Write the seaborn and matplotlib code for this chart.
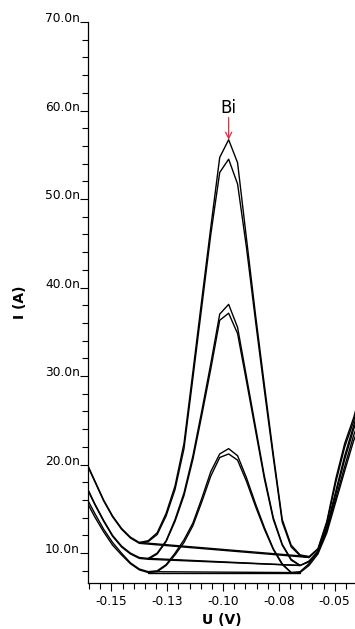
import numpy as np
import pandas as pd
import matplotlib
matplotlib.use("Agg")
import matplotlib.pyplot as plt
import seaborn as sns
from matplotlib.ticker import MultipleLocator

# ---- data (potential in V, current in nA) ----
U = [-0.1615, -0.1575, -0.1535, -0.1495, -0.1455, -0.1415, -0.1375, -0.1335,
     -0.1295, -0.1255, -0.1215, -0.1175, -0.1135, -0.1095, -0.1055, -0.1015,
     -0.0975, -0.0935, -0.0895, -0.0855, -0.0815, -0.0775, -0.0735, -0.0695,
     -0.0655, -0.0615, -0.0575, -0.0535, -0.0495, -0.0455, -0.0415, -0.0375]

A1 = [20.4, 18.2, 16.0, 14.2, 12.8, 11.8, 11.2, 11.4, 12.3, 14.5, 17.6, 22.4,
      30.5, 38.7, 46.8, 54.7, 56.7, 54.1, 45.5, 37.0, 29.0, 21.2, 13.8, 10.9,
      9.8, 9.6, 10.5, 13.6, 18.4, 22.4, 25.3, 29.0]
A2 = [20.3, 18.1, 15.9, 14.1, 12.7, 11.7, 11.1, 11.3, 12.1, 14.2, 17.2, 21.8,
      29.8, 37.9, 46.0, 53.0, 54.5, 51.7, 44.5, 36.3, 28.4, 20.8, 13.5, 10.7,
      9.7, 9.5, 10.4, 13.4, 18.0, 22.0, 24.9, 28.5]
M1 = [17.7, 15.6, 13.7, 12.0, 10.8, 10.0, 9.5, 9.4, 10.0, 11.4, 13.8, 16.8,
      21.0, 26.1, 31.4, 37.0, 38.1, 35.5, 29.9, 24.3, 18.7, 14.0, 11.0, 9.3,
      8.6, 9.1, 10.2, 13.0, 17.0, 21.0, 24.4, 27.5]
M2 = [17.6, 15.5, 13.6, 11.9, 10.7, 9.9, 9.4, 9.3, 9.9, 11.3, 13.6, 16.5,
      20.6, 25.6, 30.8, 36.3, 37.1, 34.8, 29.4, 23.9, 18.4, 13.8, 10.9, 9.2,
      8.6, 9.0, 10.1, 12.8, 16.7, 20.6, 24.0, 27.0]
S1 = [16.4, 14.5, 12.7, 11.2, 10.0, 8.9, 8.2, 7.9, 8.0, 8.7, 10.0, 11.5,
      13.4, 16.2, 19.2, 21.2, 21.8, 21.0, 18.5, 15.6, 12.9, 10.5, 8.8, 7.8,
      7.9, 8.8, 10.1, 12.6, 16.2, 19.8, 23.3, 26.0]
S2 = [16.0, 14.1, 12.4, 10.9, 9.8, 8.8, 8.1, 7.8, 7.9, 8.6, 9.8, 11.2,
      13.1, 15.8, 18.7, 20.8, 21.2, 20.5, 18.1, 15.3, 12.7, 10.4, 8.7, 7.8,
      7.8, 8.6, 9.9, 12.3, 15.8, 19.3, 22.7, 25.3]

curve_names = ["A1", "A2", "M1", "M2", "S1", "S2"]
curve_values = [A1, A2, M1, M2, S1, S2]
# baseline drawn between these two sample indices of each curve
baseline_start = [6, 6, 7, 7, 7, 7]
baseline_end = [25, 25, 24, 24, 23, 24]

x_ticks = [-0.150, -0.125, -0.100, -0.075, -0.050]
x_tick_labels = ["-0.15", "-0.13", "-0.10", "-0.08", "-0.05"]
y_ticks = [10, 20, 30, 40, 50, 60, 70]
y_tick_labels = ["10.0n", "20.0n", "30.0n", "40.0n", "50.0n", "60.0n", "70.0n"]

peak_label = "Bi"
peak_U = -0.0975
peak_I = 56.7

# ---- build tables ----
rows = []
for name, vals in zip(curve_names, curve_values):
    for u, i in zip(U, vals):
        rows.append({"curve": name, "U": u, "I": i})
df = pd.DataFrame(rows)

brows = []
for name, vals, s, e in zip(curve_names, curve_values, baseline_start, baseline_end):
    brows.append({"curve": name, "U": U[s], "I": vals[s]})
    brows.append({"curve": name, "U": U[e], "I": vals[e]})
bdf = pd.DataFrame(brows)

# ---- plot ----
sns.set_theme(style="ticks")
plt.rcParams["font.family"] = ["DejaVu Sans"]
plt.rcParams["text.color"] = "black"
plt.rcParams["axes.labelcolor"] = "black"
plt.rcParams["xtick.color"] = "black"
plt.rcParams["ytick.color"] = "black"

W, H = 355, 629
fig = plt.figure(figsize=(W / 100, H / 100), dpi=100)
ax = fig.add_axes([88 / W, (H - 583) / H, 1 - 88 / W, (583 - 22) / H])

sns.lineplot(data=df, x="U", y="I", units="curve", estimator=None, sort=False,
             color="black", lw=1.0, ax=ax, legend=False)
sns.lineplot(data=bdf, x="U", y="I", units="curve", estimator=None, sort=False,
             color="black", lw=1.0, ax=ax, legend=False)

ax.set_xlim(-0.1605, -0.0409)
ax.set_ylim(6.62, 70)

ax.set_xticks(x_ticks)
ax.set_xticklabels(x_tick_labels, fontsize=8.8, color="black")
ax.xaxis.set_minor_locator(MultipleLocator(0.005))
ax.set_yticks(y_ticks)
ax.set_yticklabels(y_tick_labels, fontsize=8.8, color="black")
ax.yaxis.set_minor_locator(MultipleLocator(2))
for lab in ax.get_yticklabels():
    lab.set_va("baseline")

ax.tick_params(which="major", length=5.8, width=0.8, direction="out",
               color="black", labelcolor="black")
ax.tick_params(which="minor", length=4.0, width=0.8, direction="out", color="black")
ax.tick_params(axis="y", which="major", pad=0)
ax.tick_params(axis="x", which="major", pad=3)

sns.despine(ax=ax)
for sp in ["left", "bottom"]:
    ax.spines[sp].set_color("black")
    ax.spines[sp].set_linewidth(0.9)

ax.set_xlabel("U (V)", fontsize=10, fontweight="bold", color="black")
ax.set_ylabel("I (A)", fontsize=10, fontweight="bold", color="black")
ax.xaxis.set_label_coords(0.5, -0.053)
ax.yaxis.set_label_coords(-0.228, 0.5)

ax.annotate("", xy=(peak_U, peak_I), xytext=(peak_U, peak_I + 2.5),
            arrowprops=dict(arrowstyle="->", color="#e8283c", lw=0.9,
                            mutation_scale=11, shrinkA=0, shrinkB=0))
ax.text(peak_U, peak_I + 3.6, peak_label, ha="center", va="center",
        fontsize=12, color="black")

fig.savefig("out.png", dpi=100, facecolor="white")
